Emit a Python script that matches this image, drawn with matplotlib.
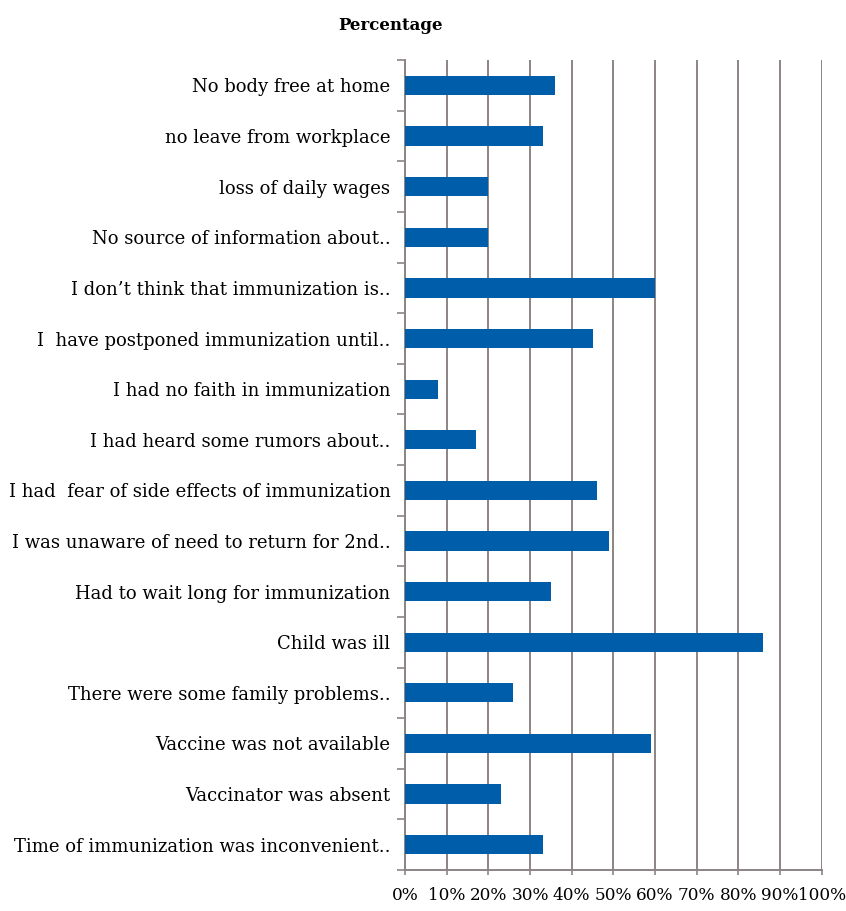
import numpy as np
import matplotlib.pyplot as plt

reasons = [
    "No body free at home",
    "no leave from workplace",
    "loss of daily wages",
    "No source of information about..",
    "I don\u2019t think that immunization is..",
    "I  have postponed immunization until..",
    "I had no faith in immunization",
    "I had heard some rumors about..",
    "I had  fear of side effects of immunization",
    "I was unaware of need to return for 2nd..",
    "Had to wait long for immunization",
    "Child was ill",
    "There were some family problems..",
    "Vaccine was not available",
    "Vaccinator was absent",
    "Time of immunization was inconvenient..",
]
percent = [36, 33, 20, 20, 60, 45, 8, 17, 46, 49, 35, 86, 26, 59, 23, 33]
x_ticks = list(range(0, 101, 10))
x_tick_labels = [f"{t}%" for t in x_ticks]

plt.rcParams["font.family"] = ["DejaVu Serif"]
grid_col = "#8c8484"

fig = plt.figure(figsize=(8.46, 9.11), dpi=100)
ax = fig.add_axes([0.4787, 0.045, 0.9713 - 0.4787, 0.934 - 0.045])

y = np.arange(len(reasons))[::-1]
ax.barh(y, percent, height=0.38, color="#005DAA", zorder=3)

ax.set_xlim(0, 100)
ax.set_ylim(-0.5, len(reasons) - 0.5)
ax.set_xticks(x_ticks)
ax.set_xticklabels(x_tick_labels, fontsize=12.2)
ax.set_yticks(y)
ax.set_yticklabels(reasons, fontsize=13)
ax.tick_params(axis="y", length=0, pad=10.5)

# category boundary ticks on the left
ax.set_yticks(np.arange(-0.5, len(reasons), 1.0), minor=True)
ax.tick_params(axis="y", which="minor", length=6, width=1.2, color=grid_col, direction="out")
ax.tick_params(axis="x", length=3.5, width=1.2, color=grid_col, direction="out", pad=9)

ax.grid(axis="x", color=grid_col, linewidth=1.4, zorder=0)
for side in ["top", "right"]:
    ax.spines[side].set_visible(False)
for side in ["left", "bottom"]:
    ax.spines[side].set_color(grid_col)
    ax.spines[side].set_linewidth(1.4)

fig.text(390 / 846, 1 - 25 / 911, "Percentage", ha="center", va="center",
         fontsize=12, fontweight="bold")

fig.savefig("out.png", dpi=100)
